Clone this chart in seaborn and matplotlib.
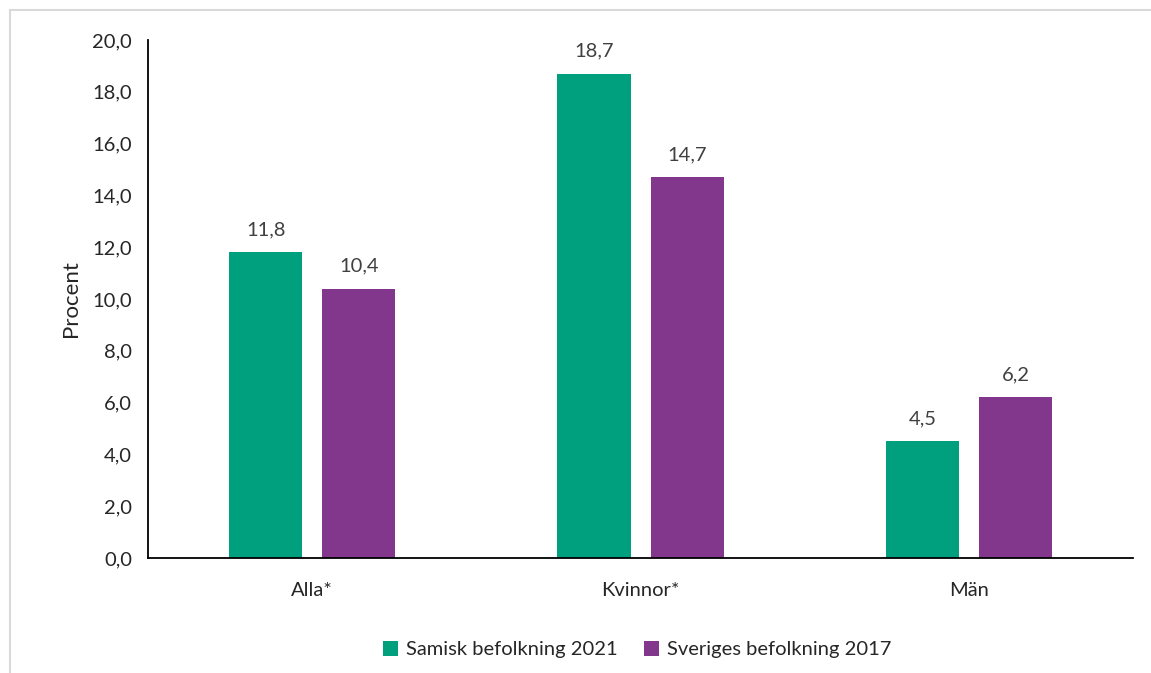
import pandas as pd
import seaborn as sns
from matplotlib import pyplot as plt
from matplotlib.patches import Rectangle

# Data
categories = ['Alla*', 'Kvinnor*', 'Män']
samisk_2021 = [11.8, 18.7, 4.5]
sverige_2017 = [10.4, 14.7, 6.2]
series_names = ['Samisk befolkning 2021', 'Sveriges befolkning 2017']
colors = ['#00A07E', '#82368C']

df = pd.DataFrame({
    'grupp': categories * 2,
    'serie': [series_names[0]] * 3 + [series_names[1]] * 3,
    'procent': samisk_2021 + sverige_2017,
})

sns.set_style('white')
plt.rcParams['font.family'] = ['Lato', 'DejaVu Sans']

fig = plt.figure(figsize=(11.51, 6.73), dpi=100)
ax = fig.add_axes([0.1286, 0.1709, 0.8558, 0.7697])

sns.barplot(data=df, x='grupp', y='procent', hue='serie', palette=colors,
            width=0.567, gap=0.215, ax=ax, saturation=1, edgecolor='none')

for cont in ax.containers:
    ax.bar_label(cont, labels=[f'{v:.1f}'.replace('.', ',') for v in cont.datavalues],
                 padding=10, fontsize=14.5, color='#404040')

ax.set_ylim(0, 20)
ax.set_yticks(range(0, 21, 2))
ax.set_yticklabels([f'{v:.1f}'.replace('.', ',') for v in range(0, 21, 2)], fontsize=14.5)
ax.tick_params(axis='x', labelsize=14.5, pad=14)
ax.tick_params(axis='y', pad=8)
ax.set_xlabel('')
ax.set_ylabel('Procent', fontsize=16, labelpad=8)
ax.set_xlim(-0.5, 2.5)

for side in ['top', 'right']:
    ax.spines[side].set_visible(False)
for side in ['left', 'bottom']:
    ax.spines[side].set_color('black')
    ax.spines[side].set_linewidth(1.3)

ax.legend(loc='upper center', bbox_to_anchor=(0.497, -0.125), ncol=2, frameon=False,
          fontsize=14.5, handlelength=0.75, handleheight=0.75, handletextpad=0.4, columnspacing=1.3)

# light gray frame around chart area
fig.patches.append(Rectangle((10 / 1151, -0.1), 1.2, 1 - 10 / 673 + 0.1,
                             transform=fig.transFigure, fill=False,
                             edgecolor='#D9D9D9', linewidth=1.5))

fig.savefig('out.png', dpi=100)
